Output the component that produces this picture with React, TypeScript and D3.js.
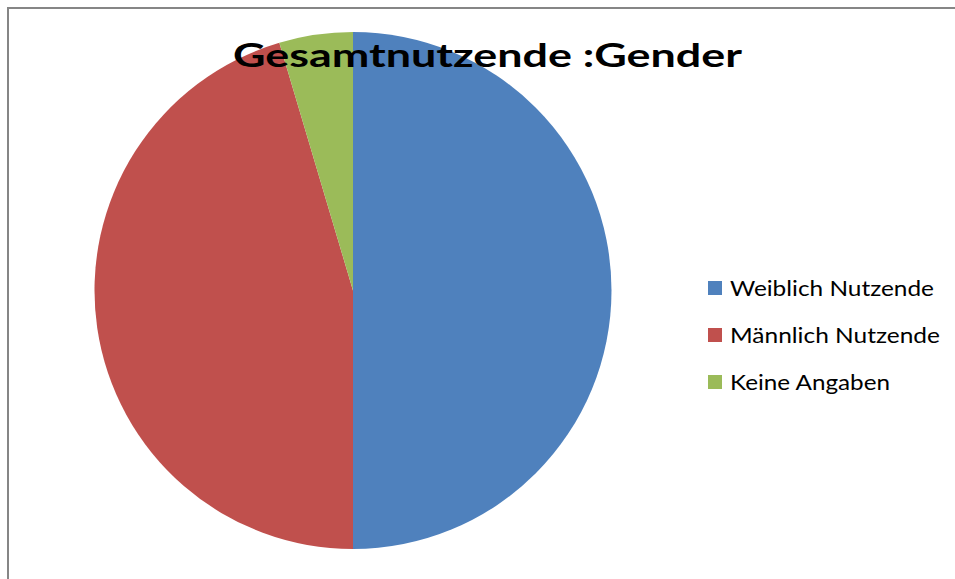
import React from "react";
import * as d3 from "d3";

const categories = ["Weiblich Nutzende", "Männlich Nutzende", "Keine Angaben"];
const values = [50, 45.4, 4.6];
const colors = ["#4F81BD", "#C0504D", "#9BBB59"];
const title = "Gesamtnutzende :Gender";

export default function App() {
  const W = 955, H = 579;
  const cx = 353, cy = 290.5, r = 258.5;
  const pie = d3.pie<number>().sort(null).value((d) => d);
  const arcs = pie(values);
  const arcGen = d3.arc<d3.PieArcDatum<number>>().innerRadius(0).outerRadius(r);
  const legendY = d3.scalePoint<string>().domain(categories).range([288, 382]);
  const legendWidths = [204, 210, 160];
  return (
    <svg width={W} height={H} style={{ position: "absolute", left: 0, top: 0 }}>
      <rect x={0} y={0} width={W} height={H} fill="#fff" />
      <line x1={7} y1={8} x2={W} y2={8} stroke="#868686" strokeWidth={2} />
      <line x1={8} y1={7} x2={8} y2={H} stroke="#868686" strokeWidth={2} />
      <g transform={`translate(${cx},${cy})`}>
        {arcs.map((a, i) => (
          <path key={i} d={arcGen(a) || ""} fill={colors[i]} />
        ))}
      </g>
      <text x={233} y={67} fontFamily="Lato, sans-serif" fontWeight="bold" fontSize={33}
        textLength={509} lengthAdjust="spacingAndGlyphs" fill="#000">{title}</text>
      {categories.map((c, i) => (
        <g key={c}>
          <rect x={708} y={(legendY(c) as number) - 7} width={14} height={14} fill={colors[i]} />
          <text x={730} y={(legendY(c) as number) + 8} fontFamily="Lato, sans-serif" fontSize={22}
            textLength={legendWidths[i]} lengthAdjust="spacingAndGlyphs" fill="#000">{c}</text>
        </g>
      ))}
    </svg>
  );
}
